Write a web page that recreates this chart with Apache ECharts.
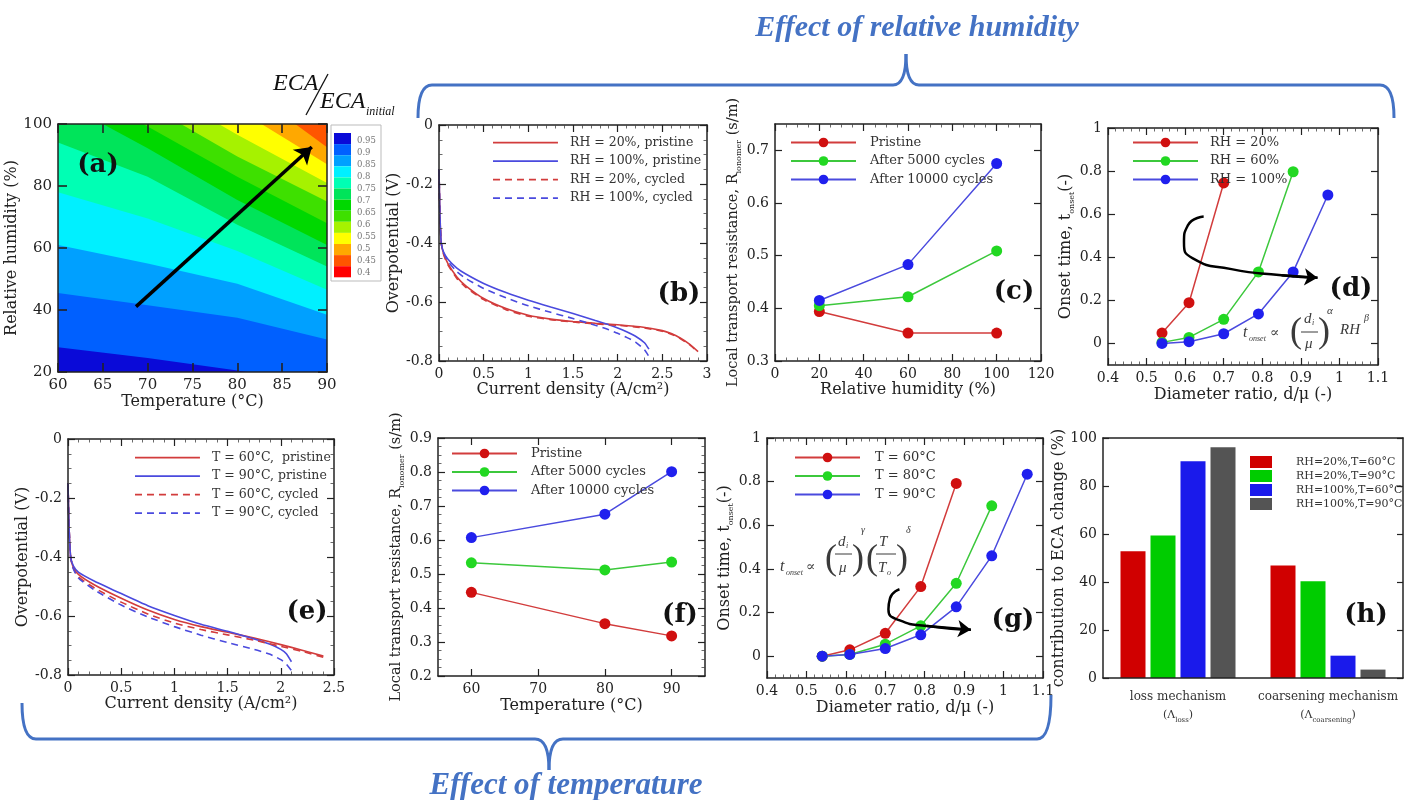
<!DOCTYPE html>
<html><head><meta charset="utf-8">
<script src="https://cdn.jsdelivr.net/npm/echarts@6/dist/echarts.min.js"></script>
<style>html,body{margin:0;padding:0;background:#fff}#c{width:1405px;height:800px}</style>
</head><body><div id="c"></div><script>
// ---------------- DATA ----------------
// (a) contour: boundary RH (%) of each ECA/ECA_initial level at the listed temperatures
const aTemps = [60, 70, 80, 90];
const aBoundaryRH = [
  [28, 24.5, 20.5, 16],        // 0.95
  [45.5, 41.5, 37.5, 30.5],    // 0.90
  [61, 55, 48.5, 38.5],        // 0.85
  [78, 69.5, 59, 46.5],        // 0.80
  [94, 83, 67.5, 54],          // 0.75
  [107.8, 92.2, 75.5, 61],     // 0.70
  [114.8, 99.2, 83, 68],       // 0.65
  [121.9, 106.2, 89.5, 75],    // 0.60
  [129.6, 113.4, 96.5, 81],    // 0.55
  [140.4, 122.6, 104.8, 87],   // 0.50
  [155, 134.7, 113.7, 92.5]    // 0.45
];
const aColors = ['#0a0ad8','#0060ff','#00a0ff','#00f0ff','#00ffb4','#00e45a','#00d800','#3ee000','#a6f200','#ffff00','#ffa800','#ff5500','#ff0000'];
const aBarLabels = ['0.95','0.9','0.85','0.8','0.75','0.7','0.65','0.6','0.55','0.5','0.45','0.4'];
const aArrow = [[68.7, 41.1], [88.3, 92.6]];

// (b) polarization, effect of RH
const bXRed  = [0, 0.01, 0.025, 0.05, 0.1, 0.2, 0.3, 0.5, 0.75, 1, 1.25, 1.5, 1.75, 2, 2.25, 2.5, 2.6, 2.7, 2.8, 2.9];
const bRH20P = [-0.15, -0.3, -0.4, -0.435, -0.47, -0.515, -0.545, -0.588, -0.622, -0.645, -0.658, -0.666, -0.672, -0.677, -0.684, -0.697, -0.707, -0.722, -0.742, -0.768];
const bRH20C = [-0.15, -0.3, -0.4, -0.437, -0.474, -0.52, -0.55, -0.592, -0.626, -0.648, -0.66, -0.668, -0.674, -0.679, -0.686, -0.699, -0.709, -0.724, -0.744, -0.77];
const bXBlue = [0, 0.01, 0.025, 0.05, 0.1, 0.2, 0.3, 0.5, 0.75, 1, 1.25, 1.5, 1.75, 1.9, 2, 2.1, 2.2, 2.3, 2.35];
const bRH100P = [-0.15, -0.3, -0.4, -0.43, -0.455, -0.485, -0.505, -0.537, -0.568, -0.594, -0.617, -0.639, -0.663, -0.677, -0.688, -0.701, -0.716, -0.738, -0.76];
const bRH100C = [-0.15, -0.3, -0.4, -0.432, -0.462, -0.497, -0.52, -0.554, -0.586, -0.613, -0.635, -0.656, -0.679, -0.694, -0.706, -0.72, -0.736, -0.762, -0.785];
const bNames = ['RH = 20%, pristine', 'RH = 100%, pristine', 'RH = 20%, cycled', 'RH = 100%, cycled'];

// (c) local transport resistance vs RH
const cRH = [20, 60, 100];
const cPristine = [0.394, 0.353, 0.353];
const c5000 = [0.405, 0.422, 0.509];
const c10000 = [0.415, 0.483, 0.675];
const cNames = ['Pristine', 'After 5000 cycles', 'After 10000 cycles'];

// (d) onset time vs diameter ratio, RH
const dX = [0.54, 0.61, 0.70, 0.79, 0.88, 0.97];
const dRH20 = [0.048, 0.189, 0.745];
const dRH60 = [0.005, 0.028, 0.112, 0.332, 0.797];
const dRH100 = [0.0, 0.008, 0.045, 0.137, 0.332, 0.689];
const dNames = ['RH = 20%', 'RH = 60%', 'RH = 100%'];
const dArrowPath = [[0.648,0.589],[0.607,0.548],[0.597,0.47],[0.62,0.395],[0.72,0.345],[0.85,0.317],[0.943,0.305]];

// (e) polarization, effect of T
const eXRed = [0, 0.01, 0.025, 0.05, 0.1, 0.25, 0.5, 0.75, 1, 1.25, 1.5, 1.75, 2, 2.2, 2.4];
const eT60P = [-0.15, -0.3, -0.4, -0.435, -0.46, -0.495, -0.54, -0.58, -0.612, -0.636, -0.655, -0.675, -0.697, -0.716, -0.736];
const eT60C = [-0.15, -0.3, -0.4, -0.438, -0.468, -0.505, -0.553, -0.593, -0.624, -0.646, -0.664, -0.682, -0.703, -0.72, -0.74];
const eXBlue = [0, 0.01, 0.025, 0.05, 0.1, 0.25, 0.5, 0.75, 1, 1.25, 1.5, 1.75, 1.9, 2, 2.05, 2.1];
const eT90P = [-0.15, -0.3, -0.4, -0.43, -0.452, -0.482, -0.524, -0.565, -0.598, -0.628, -0.652, -0.678, -0.696, -0.713, -0.727, -0.755];
const eT90C = [-0.15, -0.3, -0.4, -0.44, -0.472, -0.512, -0.563, -0.603, -0.636, -0.665, -0.69, -0.713, -0.73, -0.748, -0.762, -0.785];
const eNames = ['T = 60°C,  pristine', 'T = 90°C, pristine', 'T = 60°C, cycled', 'T = 90°C, cycled'];

// (f) local transport resistance vs T
const fT = [60, 80, 90];
const fPristine = [0.446, 0.354, 0.318];
const f5000 = [0.533, 0.512, 0.535];
const f10000 = [0.607, 0.676, 0.801];

// (g) onset time vs diameter ratio, T
const gX = [0.54, 0.61, 0.70, 0.79, 0.88, 0.97, 1.06];
const gT60 = [0.0, 0.029, 0.105, 0.319, 0.792];
const gT80 = [0.0, 0.008, 0.055, 0.139, 0.334, 0.689];
const gT90 = [0.0, 0.008, 0.035, 0.098, 0.226, 0.46, 0.834];
const gNames = ['T = 60°C', 'T = 80°C', 'T = 90°C'];
const gArrowPath = [[0.736,0.307],[0.712,0.265],[0.708,0.215],[0.735,0.165],[0.806,0.138],[0.917,0.121]];

// (h) contribution to ECA change
const hCats = ['loss mechanism', 'coarsening mechanism'];
const hSubs = ['loss', 'coarsening'];
const hNames = ['RH=20%,T=60°C', 'RH=20%,T=90°C', 'RH=100%,T=60°C', 'RH=100%,T=90°C'];
const hValues = [[52.8, 46.9], [59.4, 40.3], [90.3, 9.3], [96.1, 3.5]];
const hColors = ['#d00000', '#00cc00', '#1a1aeb', '#545454'];

// ---------------- BUILD ----------------
const FONT = 'DejaVu Serif';
const TXT = '#222';
const RED_L = '#d23c3c', GRN_L = '#3cc83c', BLU_L = '#4a4ade';
const RED_M = '#d01010', GRN_M = '#22d822', BLU_M = '#2020ee';
const grid = [], xAxis = [], yAxis = [], series = [], legend = [], graphic = [];

function addPanel(p) {
  const gi = grid.length;
  grid.push({left: p.box[0], top: p.box[1], width: p.box[2], height: p.box[3],
    show: !!p.bg, backgroundColor: p.bg || 'transparent', borderWidth: 0});
  const mk = (ax, pos, primary) => {
    const o = {
      type: ax.type || 'value', gridIndex: gi, position: pos, z: 5,
      axisLine: {show: true, onZero: false, lineStyle: {color: '#222', width: 1.5}},
      axisTick: {show: ax.tick !== false, inside: true, length: ax.tickLen || 7, lineStyle: {color: '#222', width: ax.tickW || 1.2}},
      minorTick: {show: !!ax.minor, splitNumber: ax.minor || 5, length: 3.5, lineStyle: {color: '#444', width: 0.8}},
      splitLine: {show: false},
      axisLabel: {show: primary, color: TXT, fontFamily: FONT, fontSize: ax.labelSize || 14, margin: ax.margin || 6}
    };
    if (ax.type !== 'category') { o.min = ax.min; o.max = ax.max; if (ax.interval) o.interval = ax.interval; }
    else { o.axisLabel.interval = 0; }
    if (ax.fmt) o.axisLabel.formatter = ax.fmt;
    if (ax.rich) o.axisLabel.rich = ax.rich;
    if (ax.custom) { o.axisTick.customValues = ax.custom; o.axisLabel.customValues = ax.custom; }
    if (ax.data) { o.data = ax.data; o.boundaryGap = true; }
    if (primary && ax.name) {
      o.name = ax.name; o.nameLocation = 'middle'; o.nameGap = ax.gap;
      o.nameTextStyle = {color: TXT, fontFamily: FONT, fontSize: ax.nameSize || 16};
      if (ax.nameRich) o.nameTextStyle.rich = ax.nameRich;
    }
    return o;
  };
  const xi = xAxis.length, yi = yAxis.length;
  xAxis.push(mk(p.x, 'bottom', true), mk(p.x, 'top', false));
  yAxis.push(mk(p.y, 'left', true), mk(p.y, 'right', false));
  return {gi, xi, yi};
}
const zip = (xs, ys) => ys.map((y, i) => [xs[i], y]);
function curve(name, P, xs, ys, color, dashed) {
  return {type: 'line', name, xAxisIndex: P.xi, yAxisIndex: P.yi, data: zip(xs, ys), symbol: 'none',
    smooth: 0.2, lineStyle: {color, width: 1.6, type: dashed ? [7, 5] : 'solid'},
    itemStyle: {color}, z: 3, animation: false};
}
function marked(name, P, xs, ys, lc, mc) {
  return {type: 'line', name, xAxisIndex: P.xi, yAxisIndex: P.yi, data: zip(xs, ys), symbol: 'circle', symbolSize: 11,
    lineStyle: {color: lc, width: 1.5}, itemStyle: {color: mc}, z: 3, animation: false};
}
function arrowPath(P, pts, width) {
  return {type: 'line', xAxisIndex: P.xi, yAxisIndex: P.yi, data: pts, symbol: 'none', smooth: 0.6, silent: true,
    lineStyle: {color: '#000', width: width}, z: 4, animation: false,
    markLine: {silent: true, animation: false, symbol: ['none', 'arrow'], symbolSize: 13, label: {show: false},
      lineStyle: {color: '#000', width: width, type: 'solid'},
      data: [[{coord: pts[pts.length - 2]}, {coord: pts[pts.length - 1]}]]}};
}
// legend icons drawn as thin strokes (solid / dashed) for curves without markers
const SOLID_ICON = 'path://M0 -5.2H0.01V-5.19H0Z M0 0H65V1.7H0Z M0 6.8H0.01V6.81H0Z';
let dashP = 'path://M0 -5.2H0.01V-5.19H0Z M0 6.8H0.01V6.81H0Z';
for (let x = 0; x < 65; x += 12) dashP += ' M' + x + ' 0H' + Math.min(x + 7, 65) + 'V1.7H' + x + 'Z';
const DASH_ICON = dashP;
function mkLegend(left, top, names, extra) {
  return Object.assign({left, top, orient: 'vertical', itemWidth: 65, itemHeight: 12, itemGap: 5.5,
    data: names, selectedMode: false,
    formatter: n => n.replace(/#.*$/, ''),
    textStyle: {fontFamily: FONT, fontSize: 13, color: '#333', padding: [0, 0, 0, 7]}}, extra || {});
}
const tx = (text, x, y, font, fill, align, valign) => ({type: 'text', x, y, z: 100, silent: true,
  style: {text, font, fill: fill || TXT, align: align || 'left', verticalAlign: valign || 'middle'}});
const ln = (x1, y1, x2, y2, stroke, w) => ({type: 'line', z: 100, silent: true, shape: {x1, y1, x2, y2}, style: {stroke, lineWidth: w}});
const bz = (x1, y1, cx, cy, x2, y2, stroke, w) => ({type: 'bezierCurve', z: 100, silent: true,
  shape: {x1, y1, x2, y2, cpx1: cx, cpy1: cy}, style: {stroke, lineWidth: w, fill: null}});

// ---- (a)
const A = addPanel({box: [58, 124, 269, 248], bg: aColors[11],
  x: {min: 60, max: 90, interval: 5, name: 'Temperature (°C)', gap: 16, tickLen: 9, tickW: 1.6, labelSize: 15},
  y: {min: 20, max: 100, interval: 20, name: 'Relative humidity (%)', gap: 22, tickLen: 9, tickW: 1.6, labelSize: 15}});
for (let k = aBoundaryRH.length - 1; k >= 0; k--) {
  series.push({type: 'line', xAxisIndex: A.xi, yAxisIndex: A.yi, data: zip(aTemps, aBoundaryRH[k]),
    symbol: 'none', silent: true, clip: true, z: 1, animation: false,
    lineStyle: {width: 0, opacity: 0}, areaStyle: {color: aColors[k], opacity: 1, origin: 'start'}});
}
series.push({type: 'line', xAxisIndex: A.xi, yAxisIndex: A.yi, data: [], z: 4, silent: true,
  markLine: {silent: true, animation: false, symbol: ['none', 'arrow'], symbolSize: 16, label: {show: false},
    lineStyle: {color: '#000', width: 3.5, type: 'solid'}, data: [[{coord: aArrow[0]}, {coord: aArrow[1]}]]}});
// colorbar legend
graphic.push({type: 'rect', z: 90, silent: true, shape: {x: 331, y: 125, width: 50, height: 156}, style: {fill: '#fff', stroke: '#bbb', lineWidth: 1}});
aColors.forEach((c, i) => graphic.push({type: 'rect', z: 95, silent: true,
  shape: {x: 334, y: 133 + i * 11.1, width: 17, height: 11.1}, style: {fill: c}}));
aBarLabels.forEach((t, i) => graphic.push(tx(t, 357, 141 + i * 12, '8.5px "DejaVu Serif"', '#777')));
// ECA / ECA_initial
graphic.push(tx('ECA', 273, 84, 'italic 24px "Liberation Serif"', '#111'));
graphic.push(ln(306, 115, 328, 74, '#111', 1.3));
graphic.push(tx('ECA', 320, 102, 'italic 24px "Liberation Serif"', '#111'));
graphic.push(tx('initial', 366, 112, 'italic 12px "Liberation Serif"', '#111'));

// ---- (b)
const B = addPanel({box: [439, 125, 268, 236],
  x: {min: 0, max: 3, interval: 0.5, minor: 5, name: 'Current density (A/cm²)', gap: 20},
  y: {min: -0.8, max: 0, interval: 0.2, minor: 4, name: 'Overpotential (V)', gap: 36}});
series.push(curve(bNames[0], B, bXRed, bRH20P, RED_L, false));
series.push(curve(bNames[1], B, bXBlue, bRH100P, BLU_L, false));
series.push(curve(bNames[2], B, bXRed, bRH20C, RED_L, true));
series.push(curve(bNames[3], B, bXBlue, bRH100C, BLU_L, true));
legend.push(mkLegend(488, 131, bNames.map((n, i) => ({name: n, icon: i < 2 ? SOLID_ICON : DASH_ICON})),
  {textStyle: {fontFamily: FONT, fontSize: 12.5, color: '#333', padding: [0, 0, 0, 7]}}));

// ---- (c)
const subRich = size => ({n: {fontFamily: FONT, fontSize: size, color: TXT, lineHeight: 20},
  s: {fontFamily: FONT, fontSize: 8, color: TXT, lineHeight: 20, verticalAlign: 'bottom'}});
const C = addPanel({box: [775, 124, 266, 237],
  x: {min: 0, max: 120, interval: 20, minor: 4, name: 'Relative humidity (%)', gap: 20},
  y: {min: 0.3, max: 0.75, custom: [0.3, 0.4, 0.5, 0.6, 0.7], name: '{n|Local transport resistance, R}{s|ionomer}{n| (s/m)}',
      nameRich: subRich(14.5), gap: 26}});
series.push(marked(cNames[0] + '#c', C, cRH, cPristine, RED_L, RED_M));
series.push(marked(cNames[1] + '#c', C, cRH, c5000, GRN_L, GRN_M));
series.push(marked(cNames[2] + '#c', C, cRH, c10000, BLU_L, BLU_M));
legend.push(mkLegend(785, 131, cNames.map(n => n + '#c'), {textStyle: {fontFamily: FONT, fontSize: 13, color: '#333', padding: [0, 0, 0, 9]}}));

// ---- (d)
const D = addPanel({box: [1108, 128, 270, 237],
  x: {min: 0.4, max: 1.1, interval: 0.1, minor: 5, name: 'Diameter ratio, d/μ (-)', gap: 22},
  y: {min: -0.1, max: 1, custom: [0, 0.2, 0.4, 0.6, 0.8, 1], name: '{n|Onset time, t}{s|onset}{n|(-)}', nameRich: subRich(16), gap: 31}});
series.push(marked(dNames[0], D, dX, dRH20, RED_L, RED_M));
series.push(marked(dNames[1], D, dX, dRH60, GRN_L, GRN_M));
series.push(marked(dNames[2], D, dX, dRH100, BLU_L, BLU_M));
series.push(arrowPath(D, dArrowPath, 2.5));
legend.push(mkLegend(1127, 131, dNames));

// ---- (e)
const E = addPanel({box: [68, 439, 266, 236],
  x: {min: 0, max: 2.5, interval: 0.5, minor: 5, name: 'Current density (A/cm²)', gap: 20},
  y: {min: -0.8, max: 0, interval: 0.2, minor: 4, name: 'Overpotential (V)', gap: 36}});
series.push(curve(eNames[0], E, eXRed, eT60P, RED_L, false));
series.push(curve(eNames[1], E, eXBlue, eT90P, BLU_L, false));
series.push(curve(eNames[2], E, eXRed, eT60C, RED_L, true));
series.push(curve(eNames[3], E, eXBlue, eT90C, BLU_L, true));
legend.push(mkLegend(130, 446, eNames.map((n, i) => ({name: n, icon: i < 2 ? SOLID_ICON : DASH_ICON})),
  {textStyle: {fontFamily: FONT, fontSize: 12.5, color: '#333', padding: [0, 0, 0, 7]}}));

// ---- (f)
const F = addPanel({box: [438, 438, 267, 238],
  x: {min: 55, max: 95, custom: [60, 70, 80, 90], name: 'Temperature (°C)', gap: 22},
  y: {min: 0.2, max: 0.9, interval: 0.1, minor: 4, name: '{n|Local transport resistance, R}{s|ionomer}{n| (s/m)}', nameRich: subRich(14.5), gap: 29}});
series.push(marked(cNames[0] + '#f', F, fT, fPristine, RED_L, RED_M));
series.push(marked(cNames[1] + '#f', F, fT, f5000, GRN_L, GRN_M));
series.push(marked(cNames[2] + '#f', F, fT, f10000, BLU_L, BLU_M));
legend.push(mkLegend(446, 442, cNames.map(n => n + '#f'), {textStyle: {fontFamily: FONT, fontSize: 13, color: '#333', padding: [0, 0, 0, 9]}}));

// ---- (g)
const G = addPanel({box: [767, 438, 276, 240],
  x: {min: 0.4, max: 1.1, interval: 0.1, minor: 5, name: 'Diameter ratio, d/μ (-)', gap: 22},
  y: {min: -0.1, max: 1, custom: [0, 0.2, 0.4, 0.6, 0.8, 1], name: '{n|Onset time, t}{s|onset}{n|(-)}', nameRich: subRich(16), gap: 30}});
series.push(marked(gNames[0], G, gX, gT60, RED_L, RED_M));
series.push(marked(gNames[1], G, gX, gT80, GRN_L, GRN_M));
series.push(marked(gNames[2], G, gX, gT90, BLU_L, BLU_M));
series.push(arrowPath(G, gArrowPath, 2.5));
legend.push(mkLegend(789, 446, gNames, {textStyle: {fontFamily: FONT, fontSize: 13, color: '#333', padding: [0, 0, 0, 10]}}));

// ---- (h)
const H = addPanel({box: [1103, 438, 300, 240],
  x: {type: 'category', data: hCats, tick: false, margin: 10,
      fmt: (v, i) => '{m|' + v + '}\n{p|(Λ}{s|' + hSubs[i] + '}{p|)}',
      rich: {m: {fontFamily: FONT, fontSize: 12, color: '#333', lineHeight: 18},
             p: {fontFamily: FONT, fontSize: 11, color: '#333', lineHeight: 18},
             s: {fontFamily: FONT, fontSize: 7, color: '#333', lineHeight: 18, verticalAlign: 'bottom'}}},
  y: {min: 0, max: 100, interval: 20, tickLen: 6, name: 'contribution to ECA change (%)', gap: 32}});
hNames.forEach((n, i) => series.push({type: 'bar', name: n, xAxisIndex: H.xi, yAxisIndex: H.yi,
  data: hValues[i], barWidth: 25, barGap: '20%', itemStyle: {color: hColors[i]}, z: 3, animation: false}));
legend.push({left: 1245, top: 451, orient: 'vertical', itemWidth: 22, itemHeight: 12, itemGap: 2, icon: 'rect',
  data: hNames, selectedMode: false, textStyle: {fontFamily: FONT, fontSize: 11, color: '#333', padding: [0, 0, 0, 19]}});

// panel letters
const PL = 'bold 26px "DejaVu Serif"';
[['(a)', 98, 165], ['(b)', 679, 294], ['(c)', 1014, 292], ['(d)', 1351, 289],
 ['(e)', 307, 612], ['(f)', 680, 615], ['(g)', 1013, 620], ['(h)', 1366, 615]]
  .forEach(([t, x, y]) => graphic.push(tx(t, x, y, PL, '#111', 'center')));

// formula (d)
const FI = s => 'italic ' + s + 'px "Liberation Serif"';
const FC = '#3a3a3a';
graphic.push(tx('t', 1243, 333, FI(16), FC), tx('onset', 1249, 339, FI(8), FC), tx('∝', 1270, 333, '14px "DejaVu Serif"', FC),
  tx('(', 1290, 333, '36px "Liberation Serif"', FC), tx('d', 1304, 319, FI(15), FC), tx('i', 1312, 323, FI(8), FC),
  ln(1301, 332, 1318, 332, FC, 1), tx('μ', 1305, 344, FI(15), FC), tx(')', 1318, 333, '36px "Liberation Serif"', FC),
  tx('α', 1327, 311, FI(11), FC), tx('RH', 1340, 330, FI(15), FC), tx('β', 1364, 318, FI(10), FC));
// formula (g)
graphic.push(tx('t', 780, 567, FI(16), FC), tx('onset', 786, 573, FI(8), FC), tx('∝', 806, 567, '14px "DejaVu Serif"', FC),
  tx('(', 825, 560, '36px "Liberation Serif"', FC), tx('d', 838, 542, FI(15), FC), tx('i', 846, 546, FI(8), FC),
  ln(835, 554, 852, 554, FC, 1), tx('μ', 839, 568, FI(15), FC), tx(')', 852, 560, '36px "Liberation Serif"', FC),
  tx('γ', 861, 530, FI(10), FC), tx('(', 866, 560, '36px "Liberation Serif"', FC), tx('T', 879, 542, FI(15), FC),
  ln(876, 554, 896, 554, FC, 1), tx('T', 878, 568, FI(15), FC), tx('o', 887, 573, FI(8), FC),
  tx(')', 896, 560, '36px "Liberation Serif"', FC), tx('δ', 906, 530, FI(10), FC));

// headings and braces
const BL = '#4472c4';
graphic.push(tx('Effect of relative humidity', 917, 28, 'italic bold 30px "Liberation Serif"', BL, 'center'));
graphic.push(tx('Effect of temperature', 566, 786, 'italic bold 31px "Liberation Serif"', BL, 'center'));
graphic.push(bz(418, 118, 418, 85, 432, 85, BL, 3), ln(432, 85, 893, 85, BL, 3),
  bz(893, 85, 906, 85, 906, 54, BL, 3), bz(906, 54, 906, 85, 919, 85, BL, 3),
  ln(919, 85, 1380, 85, BL, 3), bz(1380, 85, 1394, 85, 1394, 118, BL, 3));
graphic.push(bz(22, 703, 22, 739, 36, 739, BL, 3), ln(36, 739, 535, 739, BL, 3),
  bz(535, 739, 549, 739, 549, 770, BL, 3), bz(549, 770, 549, 739, 563, 739, BL, 3),
  ln(563, 739, 1037, 739, BL, 3), bz(1037, 739, 1051, 739, 1051, 695, BL, 3));

const chart = echarts.init(document.getElementById('c'), null, {renderer: 'canvas'});
chart.setOption({animation: false, backgroundColor: '#fff', grid, xAxis, yAxis, series, legend, graphic});
</script></body></html>
